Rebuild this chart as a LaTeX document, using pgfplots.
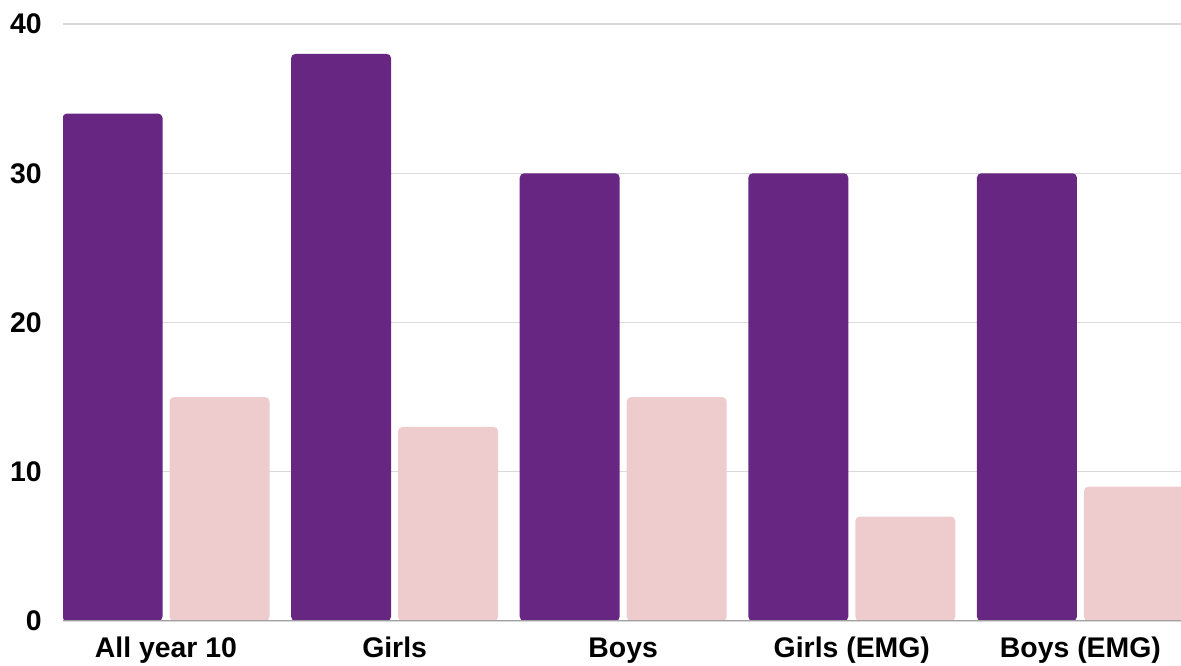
\documentclass[border=0pt]{standalone}
\usepackage{pgfplots}
\pgfplotsset{compat=1.18}
\usepackage{fontspec}
\setmainfont{Liberation Sans}
\definecolor{barpurple}{RGB}{102,38,129}
\definecolor{barpink}{RGB}{238,203,204}
\definecolor{gridgray}{RGB}{217,217,217}
\definecolor{basegray}{RGB}{160,160,160}
\begin{document}
\begin{tikzpicture}
\useasboundingbox (0,0) rectangle (590.5bp,333bp);
\begin{axis}[
  at={(31.5bp,22.5bp)}, anchor=south west,
  scale only axis,
  width=559bp, height=298.5bp,
  ybar=3.5bp, bar width=50bp,
  xmin=-0.4506, xmax=4.440,
  ymin=0, ymax=40,
  ytick={0,10,20,30,40},
  xtick={0,1,2,3,4},
  xticklabels={All year 10, Girls, Boys, Girls (EMG), Boys (EMG)},
  ymajorgrids, grid style={gridgray, line width=0.6bp},
  axis line style={draw=none},
  major tick length=0pt,
  tick style={draw=none},
  /pgf/number format/assume math mode=true,
  ticklabel style={font=\fontsize{14.2bp}{16bp}\selectfont\bfseries},
  yticklabel style={anchor=east, inner sep=0pt, xshift=-10.5bp},
  xticklabel style={anchor=base, inner sep=0pt, yshift=-18bp},
  every axis plot/.append style={draw=none, rounded corners=2.2bp},
  clip=true,
]
\addplot[fill=barpurple] coordinates {(0,34) (1,38) (2,30) (3,30) (4,30)};
\addplot[fill=barpink] coordinates {(0,15) (1,13) (2,15) (3,7) (4,9)};
\draw[basegray, line width=0.8bp] (rel axis cs:0,0) -- (rel axis cs:1,0);
\end{axis}
\end{tikzpicture}
\end{document}
